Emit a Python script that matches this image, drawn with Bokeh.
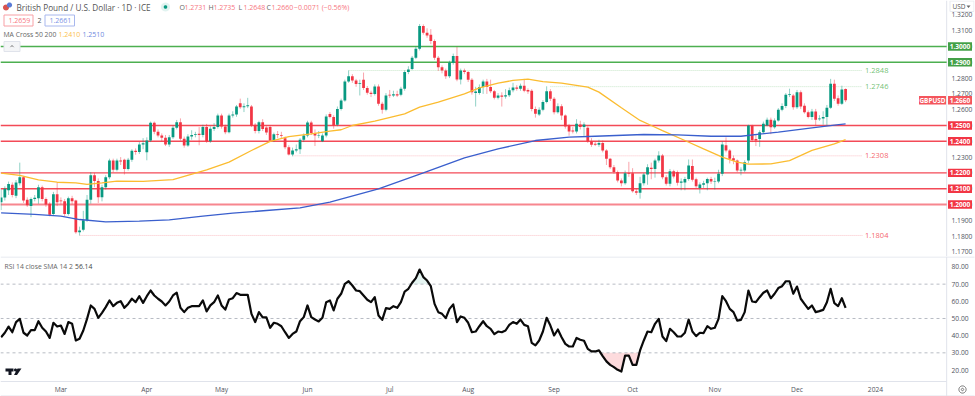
import math
import numpy as np
from bokeh.plotting import figure
from bokeh.layouts import column
from bokeh.models import (ColumnDataSource, Label, PolyAnnotation, BoxAnnotation, FixedTicker, Range1d,
                          NumeralTickFormatter)
from bokeh.core.properties import value
from bokeh.embed import file_html
from bokeh.resources import INLINE

opens = [1.2015,1.2045,1.2090,1.2125,1.2055,1.2135,1.2173,1.2030,1.1990,1.2035,
1.2040,1.2110,1.2035,1.2005,1.1940,1.2065,1.2025,1.2020,1.1940,1.2040,
1.2025,1.1825,1.1840,1.1900,1.2030,1.2185,1.2148,1.2046,1.2110,1.2173,
1.2278,1.2220,1.2278,1.2283,1.2225,1.2283,1.2340,1.2332,1.2380,1.2330,
1.2405,1.2518,1.2460,1.2437,1.2422,1.2380,1.2425,1.2485,1.2520,1.2416,
1.2373,1.2430,1.2440,1.2448,1.2440,1.2490,1.2400,1.2478,1.2490,1.2563,
1.2494,1.2458,1.2563,1.2570,1.2640,1.2616,1.2622,1.2620,1.2505,1.2465,
1.2520,1.2488,1.2490,1.2405,1.2445,1.2440,1.2420,1.2363,1.2316,1.2342,
1.2350,1.2410,1.2437,1.2519,1.2452,1.2437,1.2400,1.2437,1.2572,1.2553,
1.2505,1.2605,1.2658,1.2778,1.2812,1.2785,1.2763,1.2790,1.2738,1.2707,
1.2700,1.2747,1.2637,1.2600,1.2695,1.2690,1.2698,1.2695,1.2732,1.2838,
1.2858,1.2928,1.2985,1.3130,1.3087,1.3075,1.3035,1.2928,1.2869,1.2848,
1.2812,1.2897,1.2939,1.2791,1.2848,1.2838,1.2789,1.2705,1.2705,1.2743,
1.2778,1.2743,1.2717,1.2675,1.2690,1.2683,1.2692,1.2723,1.2740,1.2732,
1.2751,1.2724,1.2720,1.2605,1.2570,1.2600,1.2648,1.2717,1.2669,1.2584,
1.2622,1.2563,1.2500,1.2468,1.2462,1.2507,1.2490,1.2485,1.2400,1.2385,
1.2378,1.2390,1.2342,1.2289,1.2236,1.2205,1.2152,1.2135,1.2198,1.2198,
1.2084,1.2074,1.2135,1.2190,1.2232,1.2225,1.2278,1.2310,1.2173,1.2131,
1.2211,1.2205,1.2137,1.2140,1.2162,1.2243,1.2160,1.2105,1.2125,1.2135,
1.2162,1.2146,1.2146,1.2194,1.2375,1.2342,1.2293,1.2278,1.2215,1.2215,
1.2278,1.2500,1.2415,1.2415,1.2458,1.2500,1.2536,1.2489,1.2532,1.2599,
1.2624,1.2694,1.2690,1.2616,1.2711,1.2625,1.2584,1.2553,1.2589,1.2540,
1.2545,1.2553,1.2612,1.2764,1.2673,1.2637,1.2731]

highs = [1.2095,1.2115,1.2145,1.2140,1.2155,1.2265,1.2180,1.2045,1.2045,1.2060,
1.2125,1.2120,1.2045,1.2015,1.2080,1.2140,1.2045,1.2035,1.2050,1.2055,
1.2030,1.1860,1.1960,1.2060,1.2205,1.2200,1.2165,1.2125,1.2185,1.2290,
1.2290,1.2290,1.2300,1.2290,1.2295,1.2350,1.2355,1.2395,1.2420,1.2425,
1.2525,1.2525,1.2475,1.2450,1.2440,1.2440,1.2500,1.2535,1.2545,1.2430,
1.2445,1.2470,1.2460,1.2490,1.2505,1.2510,1.2495,1.2515,1.2575,1.2575,
1.2505,1.2575,1.2590,1.2630,1.2670,1.2640,1.2675,1.2630,1.2515,1.2530,
1.2540,1.2495,1.2500,1.2455,1.2465,1.2460,1.2430,1.2375,1.2360,1.2380,
1.2420,1.2450,1.2530,1.2530,1.2475,1.2465,1.2450,1.2570,1.2585,1.2565,
1.2620,1.2670,1.2790,1.2848,1.2825,1.2795,1.2790,1.2835,1.2750,1.2720,
1.2760,1.2760,1.2650,1.2705,1.2725,1.2720,1.2720,1.2745,1.2850,1.2875,
1.2940,1.3000,1.3142,1.3140,1.3115,1.3110,1.3045,1.2940,1.2880,1.2860,
1.2910,1.2955,1.2997,1.2860,1.2860,1.2845,1.2800,1.2745,1.2760,1.2790,
1.2795,1.2790,1.2725,1.2705,1.2710,1.2730,1.2740,1.2770,1.2755,1.2765,
1.2795,1.2735,1.2730,1.2620,1.2615,1.2660,1.2748,1.2730,1.2680,1.2640,
1.2635,1.2570,1.2510,1.2490,1.2540,1.2530,1.2520,1.2495,1.2420,1.2395,
1.2410,1.2405,1.2350,1.2295,1.2250,1.2215,1.2165,1.2215,1.2270,1.2230,
1.2100,1.2175,1.2200,1.2255,1.2265,1.2290,1.2337,1.2320,1.2185,1.2225,
1.2220,1.2215,1.2165,1.2175,1.2285,1.2285,1.2170,1.2140,1.2150,1.2170,
1.2175,1.2170,1.2220,1.2400,1.2425,1.2350,1.2310,1.2285,1.2235,1.2280,
1.2505,1.2505,1.2440,1.2470,1.2525,1.2550,1.2550,1.2545,1.2610,1.2640,
1.2705,1.2733,1.2700,1.2725,1.2722,1.2640,1.2595,1.2605,1.2605,1.2565,
1.2590,1.2630,1.2795,1.2790,1.2690,1.2752,1.2735]

lows = [1.1965,1.2025,1.2060,1.2045,1.2040,1.2120,1.2010,1.1985,1.1920,1.2020,
1.2005,1.2020,1.1985,1.1925,1.1930,1.1990,1.2000,1.1925,1.1930,1.2000,
1.1815,1.1804,1.1830,1.1890,1.2005,1.2110,1.2010,1.2020,1.2095,1.2160,
1.2205,1.2210,1.2250,1.2190,1.2215,1.2270,1.2315,1.2320,1.2350,1.2280,
1.2395,1.2445,1.2425,1.2400,1.2370,1.2365,1.2415,1.2475,1.2405,1.2360,
1.2365,1.2410,1.2425,1.2375,1.2425,1.2390,1.2390,1.2465,1.2480,1.2480,
1.2445,1.2450,1.2550,1.2555,1.2605,1.2585,1.2610,1.2490,1.2450,1.2450,
1.2465,1.2440,1.2395,1.2395,1.2420,1.2415,1.2350,1.2310,1.2305,1.2330,
1.2320,1.2395,1.2425,1.2440,1.2370,1.2420,1.2395,1.2425,1.2545,1.2480,
1.2495,1.2595,1.2650,1.2770,1.2770,1.2745,1.2690,1.2725,1.2695,1.2680,
1.2690,1.2625,1.2575,1.2590,1.2675,1.2680,1.2680,1.2685,1.2720,1.2825,
1.2850,1.2920,1.2975,1.3075,1.3055,1.3015,1.2915,1.2845,1.2830,1.2795,
1.2800,1.2885,1.2780,1.2760,1.2825,1.2775,1.2695,1.2620,1.2695,1.2700,
1.2700,1.2705,1.2665,1.2665,1.2620,1.2670,1.2680,1.2710,1.2720,1.2720,
1.2710,1.2700,1.2590,1.2550,1.2560,1.2590,1.2640,1.2655,1.2570,1.2575,
1.2535,1.2480,1.2435,1.2450,1.2450,1.2475,1.2435,1.2390,1.2365,1.2370,
1.2365,1.2330,1.2250,1.2225,1.2195,1.2140,1.2115,1.2125,1.2175,1.2075,
1.2060,1.2037,1.2120,1.2125,1.2160,1.2170,1.2265,1.2160,1.2120,1.2115,
1.2165,1.2120,1.2090,1.2090,1.2150,1.2145,1.2105,1.2070,1.2105,1.2090,
1.2130,1.2095,1.2135,1.2180,1.2330,1.2260,1.2255,1.2205,1.2185,1.2205,
1.2260,1.2395,1.2370,1.2365,1.2450,1.2495,1.2445,1.2480,1.2525,1.2590,
1.2610,1.2680,1.2600,1.2605,1.2605,1.2575,1.2545,1.2535,1.2500,1.2530,
1.2505,1.2500,1.2605,1.2655,1.2625,1.2630,1.2648]

closes = [1.2045,1.2100,1.2130,1.2060,1.2140,1.2173,1.2025,1.1995,1.2035,1.2042,
1.2110,1.2035,1.2000,1.1935,1.2065,1.2015,1.2020,1.1940,1.2040,1.2020,
1.1825,1.1835,1.1900,1.2030,1.2185,1.2148,1.2046,1.2110,1.2173,1.2278,
1.2220,1.2278,1.2272,1.2225,1.2283,1.2340,1.2332,1.2380,1.2388,1.2405,
1.2518,1.2460,1.2437,1.2422,1.2380,1.2425,1.2485,1.2520,1.2416,1.2373,
1.2430,1.2440,1.2445,1.2440,1.2490,1.2400,1.2480,1.2490,1.2563,1.2494,
1.2458,1.2563,1.2570,1.2620,1.2616,1.2622,1.2628,1.2500,1.2465,1.2520,
1.2478,1.2455,1.2405,1.2445,1.2440,1.2435,1.2363,1.2316,1.2342,1.2350,
1.2410,1.2437,1.2519,1.2452,1.2437,1.2440,1.2437,1.2557,1.2553,1.2500,
1.2605,1.2658,1.2778,1.2812,1.2785,1.2763,1.2768,1.2738,1.2707,1.2700,
1.2747,1.2637,1.2600,1.2690,1.2690,1.2698,1.2690,1.2732,1.2838,1.2854,
1.2928,1.2985,1.3130,1.3087,1.3070,1.3035,1.2928,1.2869,1.2848,1.2812,
1.2897,1.2939,1.2791,1.2848,1.2838,1.2789,1.2710,1.2715,1.2743,1.2778,
1.2743,1.2717,1.2675,1.2690,1.2682,1.2692,1.2723,1.2740,1.2732,1.2751,
1.2720,1.2715,1.2605,1.2574,1.2600,1.2648,1.2717,1.2669,1.2584,1.2622,
1.2563,1.2494,1.2462,1.2462,1.2511,1.2490,1.2507,1.2400,1.2378,1.2378,
1.2390,1.2342,1.2289,1.2236,1.2205,1.2152,1.2135,1.2198,1.2193,1.2084,
1.2074,1.2135,1.2190,1.2236,1.2225,1.2278,1.2310,1.2173,1.2131,1.2211,
1.2177,1.2137,1.2145,1.2162,1.2247,1.2156,1.2116,1.2127,1.2135,1.2162,
1.2146,1.2148,1.2194,1.2380,1.2342,1.2289,1.2278,1.2215,1.2220,1.2268,
1.2500,1.2409,1.2405,1.2458,1.2511,1.2536,1.2489,1.2532,1.2599,1.2624,
1.2694,1.2700,1.2616,1.2711,1.2620,1.2584,1.2553,1.2589,1.2536,1.2545,
1.2553,1.2612,1.2764,1.2669,1.2637,1.2728,1.2660]

ma50_idx = [0,5,10,15,20,23,27,31,38,46,52,55,61,67,72,77,83,88,91,94,100,108,112,117,124,128,133,137,141,145,150,157,160,166,171,174,177,183,188,193,197,200,206,211,217,223,226]
ma50_val = [1.2198,1.2184,1.2156,1.2141,1.2137,1.2127,1.2137,1.2148,1.2146,1.2158,1.2198,1.2219,1.2268,1.2342,1.2400,1.2430,1.2447,1.2464,1.2473,1.2500,1.2527,1.2574,1.2616,1.2648,1.2700,1.2738,1.2768,1.2785,1.2793,1.2778,1.2768,1.2743,1.2711,1.2612,1.2532,1.2500,1.2468,1.2405,1.2352,1.2300,1.2268,1.2255,1.2257,1.2278,1.2342,1.2384,1.2410]
ma200_idx = [0,9,16,21,28,37,45,54,62,71,80,88,101,113,124,133,143,152,159,172,181,190,198,208,217,223,226]
ma200_val = [1.1947,1.1937,1.1926,1.1905,1.1890,1.1895,1.1903,1.1926,1.1945,1.1962,1.1979,1.2015,1.2099,1.2200,1.2295,1.2352,1.2405,1.2426,1.2432,1.2443,1.2441,1.2432,1.2432,1.2458,1.2485,1.2502,1.2510]

rsi = [39.1,41.7,45.3,42.0,47.9,49.8,41.7,40.1,43.2,43.2,
48.4,44.6,42.4,38.7,47.5,45.3,45.9,41.0,47.9,46.9,
37.2,38.2,43.0,49.8,57.6,55.6,50.4,53.3,56.6,60.5,
57.2,59.1,60.1,56.2,58.5,61.5,59.5,63.0,59.1,63.0,
66.3,63.4,61.5,59.9,57.6,59.9,63.4,65.0,56.2,53.7,
56.2,57.2,57.2,57.2,60.5,54.1,57.6,59.5,63.4,57.6,
55.2,61.1,61.8,64.8,63.8,63.8,63.8,52.7,47.9,53.7,
50.6,50.6,44.6,47.5,46.9,45.5,42.0,38.7,41.0,42.4,
48.4,50.8,57.6,50.8,49.4,48.3,50.4,59.5,60.5,54.7,
61.5,64.4,70.2,71.7,69.2,66.3,65.9,63.4,60.9,59.5,
62.4,51.7,49.2,56.0,55.6,57.2,56.2,59.5,65.7,67.3,
70.8,73.5,78.5,74.1,72.1,68.8,58.5,53.7,52.7,50.2,
55.6,58.2,47.9,51.2,50.4,47.5,42.0,42.4,45.5,48.4,
45.5,44.0,40.9,42.4,42.0,43.0,46.3,47.9,46.9,49.4,
46.3,45.5,35.8,34.3,37.2,42.4,50.4,45.9,40.1,43.6,
39.1,35.2,33.7,33.7,38.7,37.6,37.0,32.3,30.8,30.8,
31.4,28.1,25.0,23.0,21.7,20.1,19.1,28.4,28.4,23.0,
23.0,31.4,37.2,42.4,42.0,46.9,49.8,39.5,36.8,44.0,
42.0,39.5,39.5,41.7,49.4,42.4,39.7,41.7,41.5,45.5,
44.0,44.6,49.8,63.0,60.1,55.6,53.7,48.8,49.2,53.7,
66.3,59.9,59.5,62.4,65.0,66.3,61.8,64.4,67.7,68.8,
71.7,71.7,64.4,68.6,61.5,58.5,55.6,57.6,53.7,54.3,
55.0,59.5,67.3,58.9,57.2,61.8,56.2]

green_levels = [1.3000, 1.2900]
red_levels = [1.2500, 1.2400, 1.2200, 1.2100, 1.2000]
price_ticks = [1.17,1.18,1.19,1.20,1.21,1.22,1.23,1.24,1.25,1.26,1.27,1.28,1.29,1.30,1.31,1.32]
rsi_ticks = [20,30,40,50,60,70,80]
rsi_bands = [70,50,30]
month_ticks = [16,39,59,82,104,125,148,169,191,213,234]
month_labels = ["Mar","Apr","May","Jun","Jul","Aug","Sep","Oct","Nov","Dec","2024"]
hline_start = [93,147,78,21]
hline_price = [1.2848,1.2746,1.2308,1.1804]
hline_text = ["1.2848","1.2746","1.2308","1.1804"]
hline_color = ["#4caf50","#4caf50","#f23645","#f23645"]
last_price = 1.2660

UP = "#089981"; DOWN = "#f23645"; GREEN = "#4caf50"; RED = "#f23645"
FONT = "Open Sans"; AX = "#50535e"; GRID = "#e0e3eb"

idx = list(range(len(closes)))
XMIN, XMAX, XSEP = -0.16, 260.5, 253.05
x_range = Range1d(XMIN, XMAX)
P_H = 256
Q_H = 140


def style_axis(a, standoff, size="6.7px"):
    a.major_tick_line_color = None
    a.minor_tick_line_color = None
    a.major_tick_out = 0
    a.major_tick_in = 0
    a.minor_tick_out = 0
    a.minor_tick_in = 0
    a.axis_line_color = None
    a.major_label_text_color = AX
    a.major_label_text_font = FONT
    a.major_label_text_font_size = size
    a.major_label_standoff = standoff


p = figure(width=975, height=P_H, x_range=x_range, y_range=Range1d(1.1671, 1.3291),
           x_axis_location=None, y_axis_location="right", toolbar_location=None,
           output_backend="svg", min_border_left=0, min_border_right=0,
           min_border_top=0, min_border_bottom=0, outline_line_color=None)
p.grid.visible = False
ax = p.yaxis[0]
ax.ticker = FixedTicker(ticks=price_ticks)
ax.formatter = NumeralTickFormatter(format="0.0000")
style_axis(ax, -23)

up = [c >= o for o, c in zip(opens, closes)]
src = ColumnDataSource(dict(
    x=idx, top=[max(o, c) for o, c in zip(opens, closes)],
    bottom=[min(o, c) for o, c in zip(opens, closes)],
    high=highs, low=lows, color=[UP if u else DOWN for u in up]))

p.segment(XSEP, 1.1671, XSEP, 1.3291, line_color=GRID, line_width=1)
for lv in green_levels:
    p.segment(XMIN, lv, XSEP, lv, line_color=GREEN, line_width=1.4)
for lv in red_levels:
    p.segment(XMIN, lv, XSEP, lv, line_color=RED, line_width=1.4 if lv != 1.2 else 2, line_alpha=0.9 if lv != 1.2 else 0.6)

p.segment(hline_start, hline_price, [230.5]*4, hline_price, line_color=hline_color,
          line_width=1, line_alpha=0.3, line_dash="1 1")
p.text([231.2]*4, hline_price, text=hline_text, text_color=hline_color, text_alpha=0.8,
       text_font=value(FONT), text_font_size="7.5px", text_baseline="middle")

p.segment("x", "high", "x", "low", source=src, line_color="color", line_width=1, line_alpha=0.45)
p.vbar("x", width=0.74, top="top", bottom="bottom", source=src, fill_color="color", line_color="color", line_width=0)
p.line(ma50_idx, ma50_val, line_color="#fbbc30", line_width=1.3)
p.line(ma200_idx, ma200_val, line_color="#3a5fcd", line_width=1.3)


def fh(fig):
    return P_H if fig is p else Q_H


def lab(fig, x, y, text, color, size="7.5px", bold=False, **kw):
    fig.add_layout(Label(x=x, y=fh(fig) - y, x_units="screen", y_units="screen", text=text, text_color=color,
                         text_font=FONT, text_font_size=size, text_baseline="middle",
                         text_font_style="bold" if bold else "normal", **kw))


def poly(fig, xs, ys, fill=None, line=None, lw=1.0, alpha=1.0):
    fig.add_layout(PolyAnnotation(xs=xs, ys=[fh(fig) - y for y in ys], xs_units="screen", ys_units="screen",
                                  fill_color=fill, fill_alpha=alpha if fill else 0,
                                  line_color=line, line_alpha=alpha if line else 0, line_width=lw))


def circ(fig, cx, cy, r, **kw):
    a = [2 * math.pi * k / 20 for k in range(20)]
    poly(fig, [cx + r * math.cos(t) for t in a], [cy + r * math.sin(t) for t in a], **kw)


def box(fig, l, t, r, b, **kw):
    poly(fig, [l, r, r, l], [t, t, b, b], **kw)


def tag(v, left, right, text, color, size="6.6px"):
    dy = 4.2 / 1580
    p.add_layout(BoxAnnotation(left=left, right=right, left_units="screen", right_units="screen",
                               top=v + dy, bottom=v - dy, fill_color=color, fill_alpha=1,
                               line_color=color, line_width=0))
    p.add_layout(Label(x=(left + right) / 2, y=v, x_units="screen", y_units="data", text=text,
                       text_color="#ffffff", text_font=FONT, text_font_size=size, text_font_style="bold",
                       text_align="center", text_baseline="middle"))


# header
circ(p, 5.5, 7, 3, fill="#d9534f")
circ(p, 9, 4.5, 2.6, fill="#5b7bd5")
lab(p, 16, 6.5, "British Pound / U.S. Dollar · 1D · ICE", "#555", size="8.2px")
circ(p, 165, 6.5, 4.5, fill="#089981", alpha=0.12)
circ(p, 165, 6.5, 1.8, fill="#089981")
ohlc_x = [179, 208, 238, 266]
ohlc_k = ["O", "H", "L", "C"]
ohlc_v = ["1.2731", "1.2735", "1.2648", "1.2660"]
for xx, k, v in zip(ohlc_x, ohlc_k, ohlc_v):
    lab(p, xx, 6.5, k, "#666", size="7px")
    lab(p, xx + 5, 6.5, v, "#f7777f", size="7px")
lab(p, 293.5, 6.5, "−0.0071 (−0.56%)", "#f7777f", size="7px")

box(p, 3.5, 14.5, 32.5, 25.5, line="#f7a0a5", fill="#ffffff")
lab(p, 8, 20, "1.2659", "#f7777f", size="7px")
lab(p, 37, 20, "2", "#555", size="7px")
box(p, 44.5, 14.5, 74, 25.5, line="#a8b8ee", fill="#ffffff")
lab(p, 49, 20, "1.2661", "#7b93e6", size="7px")
lab(p, 3, 34, "MA Cross 50 200", "#666", size="6.8px")
lab(p, 58, 34, "1.2410", "#fbc04d", size="7px")
lab(p, 82, 34, "1.2510", "#6f8ae0", size="7px")
box(p, 3.5, 41, 19.5, 51, line="#e0e3eb", fill="#f4f5f7")
poly(p, [9, 11.5, 14, 11.5], [47, 44.5, 47, 45.8], fill="#777")

# axis tags
for v in green_levels:
    tag(v, 947.5, 971.5, f"{v:.4f}", "#43a047")
for v in red_levels:
    tag(v, 947.5, 971.5, f"{v:.4f}", RED)
tag(last_price, 947.5, 971.5, f"{last_price:.4f}", "#f4555c")
tag(last_price, 918.5, 945.5, "GBPUSD", "#f4555c", size="6.4px")
box(p, 949.5, 0.5, 973.5, 11, fill="#ffffff", line="#e9ebf0")
lab(p, 952, 6, "USD", "#555", size="6.5px")
poly(p, [966, 970, 968], [5, 5, 7.5], fill="#666")

# RSI pane
RSI_TOP, RSI_BOTTOM, RSI_AXIS = 86.1, 4.57, 13.3
q = figure(width=975, height=Q_H, x_range=x_range, y_range=Range1d(RSI_BOTTOM, RSI_TOP),
           y_axis_location="right", toolbar_location=None, output_backend="svg",
           min_border_left=0, min_border_right=0, min_border_top=0, min_border_bottom=0,
           outline_line_color=None)
q.grid.visible = False
ya = q.yaxis[0]
ya.ticker = FixedTicker(ticks=rsi_ticks)
ya.formatter = NumeralTickFormatter(format="0.00")
style_axis(ya, -23)
xa = q.xaxis[0]
xa.ticker = FixedTicker(ticks=month_ticks)
xa.major_label_overrides = dict(zip(month_ticks, month_labels))
style_axis(xa, -12)

r = np.array(rsi)
q.segment(XSEP, RSI_BOTTOM, XSEP, RSI_TOP, line_color=GRID, line_width=1)
q.segment(XMIN, RSI_AXIS, XSEP, RSI_AXIS, line_color=GRID, line_width=1)
q.varea(idx, np.minimum(r, 30), 30, fill_color="#f23645", fill_alpha=0.18)
q.varea(idx, np.maximum(r, 70), 70, fill_color="#089981", fill_alpha=0.10)
for b in rsi_bands:
    q.segment(XMIN, b, XSEP, b, line_color="#b8bcc4", line_width=1, line_dash="3 3")
q.line(idx, rsi, line_color="#0a0a0a", line_width=2.2, line_join="round")

lab(q, 4, 10, "RSI 14 close SMA 14 2", "#666", size="6.8px")
lab(q, 74.5, 10, "56.14", "#444", size="6.8px")
poly(q, [0, 975], [0.5, 0.5], line=GRID)
poly(q, [0, 975], [139.5, 139.5], line=GRID)
# logo
poly(q, [5, 13, 13, 11, 11, 8, 8, 5], [112, 112, 115, 115, 118.5, 118.5, 115, 115], fill="#131722")
circ(q, 15, 113.5, 1.5, fill="#131722")
poly(q, [17, 21, 16.5, 13.5], [112, 112, 118.5, 118.5], fill="#131722")
# settings icon
circ(q, 962, 133, 3.6, line="#666", lw=0.9)
circ(q, 962, 133, 1.2, line="#666", lw=0.9)

page = column(p, q, spacing=0)
open("out.html", "w").write(file_html(page, INLINE))
